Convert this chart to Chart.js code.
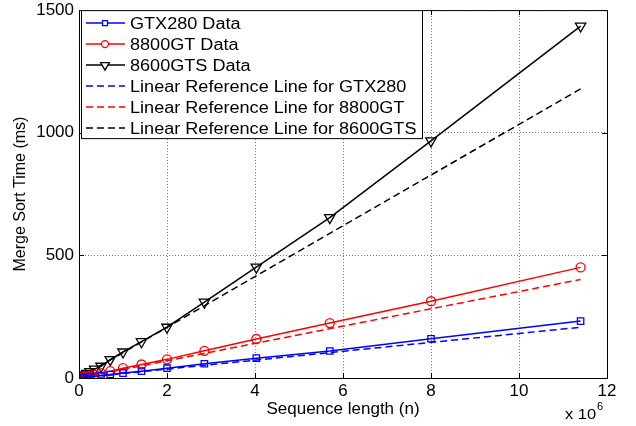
<!DOCTYPE html>
<html>
<head>
<meta charset="utf-8">
<script src="https://cdn.jsdelivr.net/npm/chart.js@4.4.1/dist/chart.umd.min.js"></script>
<style>
  html, body { margin: 0; padding: 0; background: #fff; }
  #wrap { width: 636px; height: 426px; }
</style>
</head>
<body>
<div id="wrap"><canvas id="chart" width="636" height="426"></canvas></div>
<script>
// sequence length, in units of 10^6
const seqLen = [0.0625, 0.089, 0.125, 0.178, 0.25, 0.355, 0.5, 0.71, 1.0, 1.42, 2.0, 2.85, 4.03, 5.7, 8.0, 11.4];

// merge sort time (ms)
const gtx280 = [1, 2, 3, 4, 5, 7, 10, 14, 20, 28, 40, 58, 81, 110, 160, 232];
const gt8800 = [2, 3, 5, 7, 10, 14, 20, 28, 40, 55, 76, 111, 159, 224, 313, 451];
const gts8600 = [6, 9, 13, 19, 26, 36, 48, 75, 106, 148, 207, 309, 452, 654, 967, 1435];

// linear reference lines (end points)
const refLen = [0, 11.4];
const refGtx280 = [0, 207];
const refGt8800 = [0, 402];
const refGts8600 = [0, 1179];

const xTicks = [0, 2, 4, 6, 8, 10, 12];
const yTicks = [0, 500, 1000, 1500];

const FONT = "'Liberation Sans', Arial, sans-serif";

const pts = (xs, ys) => xs.map((x, i) => ({ x: x, y: ys[i] }));

function dataSet(label, xs, ys, color, marker, dashed) {
    return {
        label: label,
        data: pts(xs, ys),
        borderColor: color,
        backgroundColor: color,
        borderWidth: 1.5,
        borderDash: dashed ? [7, 4] : [],
        pointStyle: marker || false,
        pointRadius: marker ? (marker === 'triangle' ? 6 : 4.5) : 0,
        pointRotation: marker === 'triangle' ? 180 : 0,
        pointBorderColor: color,
        pointBackgroundColor: 'rgba(0,0,0,0)',
        pointBorderWidth: 1.3,
        tension: 0
    };
}

// text a bit wider than tall, like the original export
function wideText(ctx, txt, x, y, sx) {
    ctx.save();
    ctx.translate(x, y);
    ctx.scale(sx, 1);
    ctx.fillText(txt, 0, 0);
    ctx.restore();
}

// MATLAB style frame, inward ticks, legend box and exponent label
const matlabBits = {
    id: 'matlabBits',
    afterDraw(chart) {
        const ctx = chart.ctx;
        const a = chart.chartArea;
        const xs = chart.scales.x, ys = chart.scales.y;
        ctx.save();
        ctx.strokeStyle = '#000';
        ctx.lineWidth = 1;
        ctx.strokeRect(a.left + 0.5, a.top + 0.5, a.right - a.left, a.bottom - a.top);

        ctx.beginPath();
        xTicks.forEach(v => {
            const px = Math.round(xs.getPixelForValue(v)) + 0.5;
            ctx.moveTo(px, a.bottom); ctx.lineTo(px, a.bottom - 5);
            ctx.moveTo(px, a.top); ctx.lineTo(px, a.top + 5);
        });
        yTicks.forEach(v => {
            const py = Math.round(ys.getPixelForValue(v)) + 0.5;
            ctx.moveTo(a.left, py); ctx.lineTo(a.left + 5, py);
            ctx.moveTo(a.right, py); ctx.lineTo(a.right - 5, py);
        });
        ctx.stroke();

        // legend
        const lx = a.left + 2, ly = a.top, lw = 341, lh = 128;
        ctx.fillStyle = '#fff';
        ctx.fillRect(lx, ly, lw, lh);
        ctx.strokeStyle = '#000';
        ctx.strokeRect(lx + 0.5, ly + 0.5, lw, lh);
        ctx.font = '16px ' + FONT;
        ctx.textBaseline = 'middle';
        ctx.textAlign = 'left';
        chart.data.datasets.forEach((ds, i) => {
            const y = ly + 13 + i * 21;
            ctx.strokeStyle = ds.borderColor;
            ctx.lineWidth = 1.5;
            ctx.setLineDash(ds.borderDash);
            ctx.beginPath();
            ctx.moveTo(lx + 5, y); ctx.lineTo(lx + 44, y);
            ctx.stroke();
            ctx.setLineDash([]);
            if (ds.pointStyle) {
                ctx.lineWidth = 1.3;
                ctx.fillStyle = '#fff';
                Chart.helpers.drawPoint(ctx, {
                    pointStyle: ds.pointStyle,
                    radius: ds.pointRadius - 1,
                    rotation: ds.pointRotation,
                    borderWidth: 1.3
                }, lx + 24, y);
            }
            ctx.fillStyle = '#000';
            wideText(ctx, ds.label, lx + 49, y + 1, 1.13);
        });

        // exponent
        ctx.fillStyle = '#000';
        ctx.font = '15px ' + FONT;
        ctx.textBaseline = 'alphabetic';
        wideText(ctx, 'x 10', a.right - 42, 419, 1.1);
        ctx.font = '11px ' + FONT;
        ctx.fillText('6', a.right - 10, 410);
        ctx.restore();
    }
};

new Chart(document.getElementById('chart'), {
    type: 'line',
    data: {
        datasets: [
            dataSet('GTX280 Data', seqLen, gtx280, '#0000ff', 'rect', false),
            dataSet('8800GT Data', seqLen, gt8800, '#ff0000', 'circle', false),
            dataSet('8600GTS Data', seqLen, gts8600, '#000000', 'triangle', false),
            dataSet('Linear Reference Line for GTX280', refLen, refGtx280, '#0000ff', null, true),
            dataSet('Linear Reference Line for 8800GT', refLen, refGt8800, '#ff0000', null, true),
            dataSet('Linear Reference Line for 8600GTS', refLen, refGts8600, '#000000', null, true)
        ]
    },
    options: {
        responsive: false,
        animation: false,
        devicePixelRatio: 1,
        layout: { padding: { top: 0, right: 29, left: 0, bottom: 0 } },
        plugins: { legend: { display: false }, tooltip: { enabled: false } },
        scales: {
            x: {
                type: 'linear',
                min: 0, max: 12,
                afterBuildTicks: s => { s.ticks = xTicks.map(v => ({ value: v })); },
                afterFit: s => { s.height = 48; },
                grid: { color: '#777', lineWidth: 1, drawTicks: false },
                border: { display: false, dash: [1, 2] },
                ticks: { color: '#000', padding: 3, callback: v => String(v), font: { family: FONT, size: 17 } },
                title: {
                    display: true, text: 'Sequence length (n)', color: '#000',
                    font: { family: FONT, size: 17 }, padding: { top: 0, bottom: 6 }
                }
            },
            y: {
                type: 'linear',
                min: 0, max: 1500,
                afterBuildTicks: s => { s.ticks = yTicks.map(v => ({ value: v })); },
                afterFit: s => { s.width = 79; },
                grid: { color: '#777', lineWidth: 1, drawTicks: false },
                border: { display: false, dash: [1, 2] },
                ticks: { color: '#000', padding: 5, callback: v => String(v), font: { family: FONT, size: 17, lineHeight: 0.6 } },
                title: {
                    display: true, text: 'Merge Sort Time (ms)', color: '#000',
                    font: { family: FONT, size: 16 }, padding: { top: 11, bottom: 0 }
                }
            }
        }
    },
    plugins: [matlabBits]
});
</script>
</body>
</html>
